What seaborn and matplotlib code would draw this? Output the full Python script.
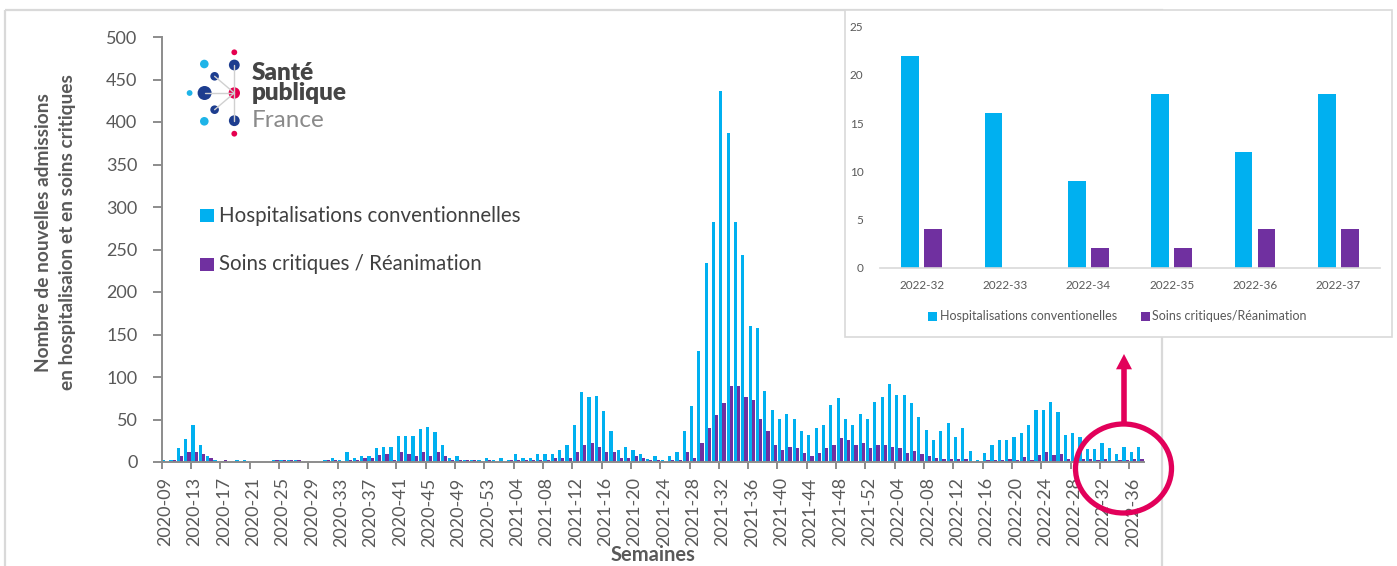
import pandas as pd
import matplotlib
matplotlib.use('Agg')
import matplotlib.pyplot as plt
import seaborn as sns
from matplotlib.patches import Circle, Ellipse, Rectangle, Polygon

# ---- données ----
semaines = ([f'2020-{w:02d}' for w in range(9, 54)]
            + [f'2021-{w:02d}' for w in range(1, 53)]
            + [f'2022-{w:02d}' for w in range(1, 38)])

hospit = [2, 2, 16, 27, 43, 20, 7, 2, 1, 0,
          2, 2, 0, 0, 0, 2, 2, 2, 2, 0,
          0, 0, 2, 5, 2, 12, 5, 7, 7, 16,
          18, 18, 31, 31, 31, 39, 41, 35, 20, 5,
          7, 2, 2, 2, 5, 2, 5, 2, 10, 5,
          5, 10, 10, 10, 14, 20, 43, 82, 76, 78,
          60, 37, 14, 18, 14, 10, 3, 7, 2, 7,
          12, 37, 66, 131, 234, 282, 436, 387, 282, 244,
          160, 158, 84, 61, 51, 57, 51, 37, 32, 40,
          44, 67, 75, 51, 44, 57, 51, 71, 77, 92,
          79, 79, 69, 53, 38, 26, 36, 46, 30, 40,
          13, 2, 11, 20, 26, 26, 30, 34, 44, 61,
          61, 71, 59, 32, 34, 30, 15, 15, 22, 16,
          9, 18, 12, 18]

reanim = [0, 2, 7, 12, 12, 10, 5, 0, 2, 0,
          0, 0, 0, 0, 0, 2, 2, 2, 2, 0,
          0, 0, 2, 2, 0, 2, 2, 5, 5, 8,
          10, 2, 12, 10, 7, 12, 7, 12, 7, 2,
          2, 2, 2, 0, 2, 0, 0, 2, 2, 2,
          2, 2, 2, 5, 5, 5, 12, 20, 22, 18,
          12, 12, 5, 5, 7, 5, 2, 2, 0, 2,
          2, 12, 5, 22, 40, 55, 69, 90, 90, 76,
          73, 51, 37, 20, 14, 18, 16, 11, 7, 11,
          16, 20, 28, 26, 20, 22, 16, 20, 20, 18,
          16, 11, 13, 9, 7, 5, 3, 3, 3, 3,
          0, 0, 2, 2, 2, 4, 2, 6, 2, 8,
          12, 8, 10, 4, 4, 4, 4, 2, 4, 0,
          2, 2, 4, 4]

serie_hosp = 'Hospitalisations conventionnelles'
serie_rea = 'Soins critiques / Réanimation'
serie_hosp_zoom = 'Hospitalisations conventionelles'
serie_rea_zoom = 'Soins critiques/Réanimation'
y_ticks = list(range(0, 501, 50))
y_ticks_zoom = list(range(0, 26, 5))
n_zoom = 6

CYAN = '#00B0F0'
PURPLE = '#7030A0'
GRIS = '#595959'
AXE = '#8c8c8c'
CADRE = '#d9d9d9'
ROUGE = '#E2005A'
BLEU_LOGO = '#1D3D8F'
CYAN_LOGO = '#1EB4E8'
ROSE_LOGO = '#E5004F'

sns.set_theme(style='white')
plt.rcParams['font.family'] = ['Lato', 'DejaVu Sans']

W, H = 1397, 566
fig = plt.figure(figsize=(W / 100, H / 100), dpi=100)


def px_axes(x0, y0, x1, y1):
    # boîte en pixels, origine en haut à gauche
    return fig.add_axes([x0 / W, 1 - y1 / H, (x1 - x0) / W, (y1 - y0) / H])


def overlay(z):
    ov = px_axes(0, 0, W, H)
    ov.set_xlim(0, W)
    ov.set_ylim(H, 0)
    ov.axis('off')
    ov.set_zorder(z)
    ov.patch.set_alpha(0)
    return ov


# cadres
bg = overlay(0)
bg.add_patch(Rectangle((5, 10), 1157, 620, fill=False, ec=CADRE, lw=1.6))
bg.add_patch(Rectangle((845, 10), 547, 327, fc='white', ec=CADRE, lw=1.2))

# ---- graphique principal ----
df = pd.DataFrame({
    'semaine': semaines + semaines,
    'serie': [serie_hosp] * len(semaines) + [serie_rea] * len(semaines),
    'valeur': hospit + reanim,
})

ax = px_axes(161.7, 37, 1144, 462)
ax.set_zorder(1)
ax.patch.set_alpha(0)
sns.barplot(data=df, x='semaine', y='valeur', hue='serie',
            palette=[CYAN, PURPLE], width=0.88, saturation=1,
            errorbar=None, legend=False, linewidth=0, ax=ax)
ax.set_xlim(-0.5, len(semaines) - 0.5)
ax.set_ylim(0, 500)
ax.set_yticks(y_ticks)

pos = list(range(0, len(semaines), 4))
ax.set_xticks(pos)
ax.set_xticklabels([semaines[i] for i in pos], rotation=90)
ax.set_xticks([p - 0.5 for p in pos], minor=True)
ax.tick_params(axis='x', which='major', length=0, pad=11, labelsize=13, labelcolor=GRIS)
ax.tick_params(axis='x', which='minor', bottom=True, length=5, width=1.4, color=AXE, direction='out')
ax.tick_params(axis='y', left=True, length=6.5, width=1.4, color=AXE, direction='out',
               pad=11, labelsize=13, labelcolor=GRIS)
for s in ['top', 'right']:
    ax.spines[s].set_visible(False)
for s in ['left', 'bottom']:
    ax.spines[s].set_color(AXE)
    ax.spines[s].set_linewidth(1.4)

ax.set_ylabel('Nombre de nouvelles admissions\nen hospitalisaion et en soins critiques',
              fontsize=13.8, fontweight='bold', color=GRIS, linespacing=1.5)
ax.yaxis.set_label_coords(-0.0868, 0.541)
ax.set_xlabel('Semaines', fontsize=14.5, fontweight='bold', color=GRIS, va='bottom')
ax.xaxis.set_label_coords(0.5, -0.2430)

# ---- zoom sur les dernières semaines ----
dfz = pd.DataFrame({
    'semaine': semaines[-n_zoom:] * 2,
    'serie': [serie_hosp_zoom] * n_zoom + [serie_rea_zoom] * n_zoom,
    'valeur': hospit[-n_zoom:] + reanim[-n_zoom:],
})
axz = px_axes(880, 26.7, 1380, 267.7)
axz.set_zorder(2)
axz.patch.set_alpha(0)
sns.barplot(data=dfz, x='semaine', y='valeur', hue='serie',
            palette=[CYAN, PURPLE], width=0.55, gap=0.22, saturation=1,
            errorbar=None, legend=False, linewidth=0, ax=axz)
axz.set_xlim(-0.5, n_zoom - 0.5)
axz.set_ylim(0, 25)
axz.set_yticks(y_ticks_zoom)
axz.set_xlabel('')
axz.set_ylabel('')
axz.tick_params(axis='both', length=0, labelsize=8.5, labelcolor=GRIS)
axz.tick_params(axis='y', pad=12)
axz.tick_params(axis='x', pad=9)
for s in ['top', 'right', 'left']:
    axz.spines[s].set_visible(False)
axz.spines['bottom'].set_color(CADRE)
axz.spines['bottom'].set_linewidth(1.2)

# ---- premier plan : logo, légendes, cercle ----
fg = overlay(3)

liens = [((234.3, 65), (234.3, 120.7)), ((204.6, 93), (234.3, 93)),
         ((214.6, 76.3), (234.3, 93)), ((214.6, 109.7), (234.3, 93))]
for (xa, ya), (xb, yb) in liens:
    fg.plot([xa, xb], [ya, yb], color='#d0d0d0', lw=1)
points = [(234.3, 52.3, 2.9, ROSE_LOGO), (204.3, 64, 4.3, CYAN_LOGO),
          (234.3, 65, 5.4, BLEU_LOGO), (214.6, 76.3, 4.3, BLEU_LOGO),
          (189.6, 93, 2.9, CYAN_LOGO), (204.6, 93, 7.0, BLEU_LOGO),
          (234.3, 93, 5.7, ROSE_LOGO), (214.6, 109.7, 4.3, BLEU_LOGO),
          (204.3, 121.3, 4.3, CYAN_LOGO), (234.3, 120.7, 5.4, BLEU_LOGO),
          (234.3, 133.7, 2.9, ROSE_LOGO)]
for cx, cy, r, c in points:
    fg.add_patch(Circle((cx, cy), r, color=c, lw=0))
fg.text(252, 79.5, 'Santé', fontsize=17.5, fontweight='heavy', color='#454545', va='baseline')
fg.text(252, 99.5, 'publique', fontsize=17.5, fontweight='heavy', color='#454545', va='baseline')
fg.text(252, 127, 'France', fontsize=17.5, color='#8a8a8a', va='baseline')

fg.add_patch(Rectangle((200, 209), 13.5, 13, color=CYAN, lw=0))
fg.text(219, 215.5, serie_hosp, fontsize=14.8, color='#404040', va='center')
fg.add_patch(Rectangle((200, 257.5), 13.5, 13, color=PURPLE, lw=0))
fg.text(219, 264, serie_rea, fontsize=14.8, color='#404040', va='center')

fg.add_patch(Rectangle((928, 311.5), 9, 9, color=CYAN, lw=0))
fg.text(940, 316, serie_hosp_zoom, fontsize=9, color=GRIS, va='center')
fg.add_patch(Rectangle((1141, 311.5), 9, 9, color=PURPLE, lw=0))
fg.text(1152, 316, serie_rea_zoom, fontsize=9, color=GRIS, va='center')

fg.add_patch(Ellipse((1123.5, 468.5), 96, 89, fill=False, ec=ROUGE, lw=3.8))
fg.plot([1124, 1124], [425, 366], color=ROUGE, lw=4, solid_capstyle='butt')
fg.add_patch(Polygon([[1116, 369.3], [1132, 369.3], [1124, 354]], closed=True, color=ROUGE, lw=0))

fig.savefig('out.png', dpi=100)
